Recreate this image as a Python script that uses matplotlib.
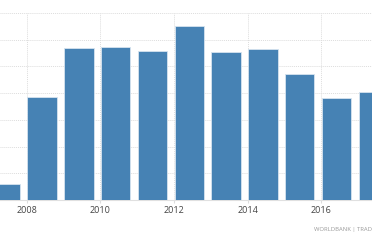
import matplotlib
matplotlib.use("Agg")
import matplotlib.pyplot as plt

years = [2007, 2008, 2009, 2010, 2011, 2012, 2013, 2014, 2015, 2016, 2017]
values = [0.6, 3.87, 5.68, 5.74, 5.56, 6.53, 5.53, 5.67, 4.73, 3.81, 4.03]
tick_years = [2008, 2010, 2012, 2014, 2016]
tick_labels = ["2008", "2010", "2012", "2014", "2016"]
source = "WORLDBANK | TRADINGECONOMICS.COM"

fig = plt.figure(figsize=(3.72, 2.40), dpi=100)
ax = fig.add_axes([0, 1 - 200 / 240, 1, (200 - 13) / 240])

ax.bar([y + 0.42 for y in years], values, width=0.8, color="#4682B4",
       edgecolor="#D6E3EF", linewidth=0.6, zorder=3)

ax.set_xlim(2007.274, 2017.383)
ax.set_ylim(0, 7)
ax.set_yticks([0, 1, 2, 3, 4, 5, 6, 7])
ax.set_yticklabels([])
ax.tick_params(axis="y", length=0)
ax.set_xticks(tick_years)
ax.set_xticklabels(tick_labels, fontsize=6.5, color="#444444", family="Open Sans")
ax.tick_params(axis="x", length=2, color="#DDDDDD", pad=2)
ax.grid(True, color="#DDDDDD", linestyle=(0, (1, 1)), linewidth=0.7, zorder=0)
for s in ["top", "right", "left"]:
    ax.spines[s].set_visible(False)
ax.spines["bottom"].set_color("#E0E0E0")
ax.spines["bottom"].set_linewidth(0.8)

fig.text(314 / 372, 1 - 229 / 240, source, fontsize=4.2, color="#999999",
         va="center", ha="left", family="Open Sans")

fig.savefig("out.png", dpi=100)
